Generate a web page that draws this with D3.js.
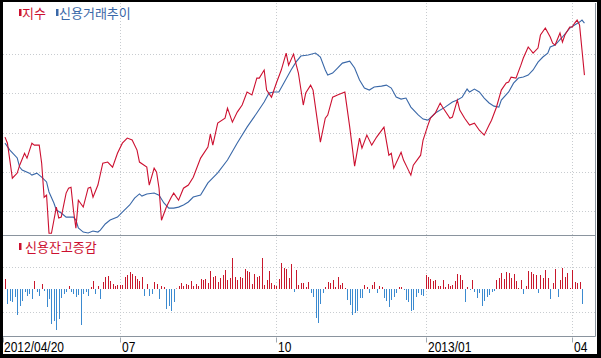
<!DOCTYPE html>
<html><head><meta charset="utf-8">
<script src="https://cdn.jsdelivr.net/npm/d3@7"></script>
<style>html,body{margin:0;padding:0;background:#fff}svg{display:block}</style>
</head><body><svg id="c" width="601" height="358"></svg>
<script>
// ---- data ----
const indexDays = [0,1,3,5,6,8,9,11,12,14,15,16,17,18,19,21,22,23,25,26,27,28,29,30,32,34,35,36,38,40,42,44,46,48,50,52,54,55,58,59,61,62,63,64,66,68,69,71,73,75,77,80,83,84,85,87,90,91,93,95,97,99,101,103,104,106,107,109,111,113,115,116,118,120,122,123,125,126,129,131,132,134,136,139,141,143,145,146,148,150,152,155,157,158,159,162,163,165,166,167,170,171,173,174,176,178,179,182,183,185,186,188,190,192,194,196,198,199,201,203,205,206,207,209,211,212,214,215,216,218,219,221,223,224,225,227,228,229,231,232,233,234,235,236,237];
const indexValues = [507.8,504.7,486.9,489.5,493.5,499.6,497.1,504.7,503.7,503.7,494.5,477.2,478.3,458.9,458.9,472.2,466.6,467.1,479.3,481.8,482.3,470.6,461.5,475.7,472.2,481.8,482.3,477.2,483.4,494.5,495.1,492.5,499.6,504.7,507.3,506.3,501.2,495.1,492.5,483.4,492.0,490.0,481.8,465.5,472.2,477.2,479.3,475.7,481.8,483.4,487.4,497.1,502.7,509.3,503.7,514.9,517.4,522.5,515.4,520.5,524.1,530.7,529.2,537.8,537.8,541.9,531.7,528.1,535.3,541.9,550.5,544.4,550.0,540.4,524.1,530.2,534.2,531.7,505.2,517.4,519.0,528.1,529.2,530.7,512.9,493.0,507.3,502.2,508.8,503.7,507.8,512.9,498.6,499.6,492.0,500.1,496.1,491.0,488.4,493.5,498.6,506.3,513.9,517.4,520.0,525.1,523.0,517.4,518.0,526.6,521.5,517.4,513.9,514.9,511.3,508.8,513.9,516.4,523.0,531.7,535.3,535.8,538.3,537.8,544.4,548.0,553.6,552.1,550.5,553.1,559.7,563.3,558.7,555.6,554.6,560.7,556.1,559.7,563.8,563.8,565.8,567.3,564.8,552.1,539.3];

const creditDays = [0,2,5,6,7,10,11,13,15,17,18,20,21,23,25,28,29,30,32,34,36,38,39,41,43,46,48,51,53,55,56,58,61,63,65,67,69,71,73,75,77,80,83,87,91,95,99,103,106,108,110,112,114,117,119,121,124,127,129,131,132,134,136,138,141,143,145,147,149,151,154,156,158,160,162,164,166,169,171,173,176,180,183,185,187,189,190,192,194,196,198,200,202,203,206,208,210,212,214,216,218,220,222,223,225,228,231,233,235,236,237];
const creditValues = [4.947,4.911,4.871,4.825,4.810,4.794,4.784,4.794,4.774,4.749,4.698,4.642,4.606,4.591,4.570,4.570,4.555,4.515,4.494,4.489,4.499,4.494,4.504,4.535,4.555,4.570,4.596,4.632,4.667,4.688,4.677,4.688,4.693,4.682,4.642,4.616,4.616,4.621,4.632,4.647,4.672,4.683,4.744,4.795,4.861,4.947,5.028,5.100,5.156,5.202,5.207,5.207,5.252,5.319,5.359,5.390,5.395,5.405,5.385,5.319,5.293,5.303,5.329,5.354,5.364,5.329,5.268,5.227,5.217,5.232,5.237,5.242,5.227,5.181,5.171,5.176,5.130,5.090,5.069,5.064,5.100,5.130,5.156,5.166,5.181,5.222,5.207,5.222,5.207,5.176,5.151,5.135,5.130,5.166,5.207,5.252,5.278,5.283,5.293,5.319,5.359,5.385,5.405,5.436,5.446,5.487,5.532,5.548,5.563,5.573,5.558];

const changeValues = [
 100,-150,-120,-130,-80,-260,-170,-120,-30,-70,-50,-100,80,-30,-70,50,-20,-180,-100,-350,-320,-410,-300,-90,-50,-30,30,-30,-50,-80,-60,-360,-50,-30,-70,20,80,-50,30,-100,70,120,130,80,50,30,40,40,40,120,140,170,150,130,100,80,120,-70,50,-70,-50,70,50,-100,30,20,-200,-170,-220,-130,5,30,60,30,50,40,80,30,50,30,
 100,90,100,60,180,120,130,70,110,140,190,90,110,310,120,90,120,110,200,180,170,50,150,120,130,310,40,90,180,60,40,30,100,260,210,200,110,250,-30,190,40,60,60,20,70,-40,-80,-290,-340,-150,-40,20,70,60,90,20,120,40,60,10,-110,-160,-260,-240,-220,-90,-90,40,20,-40,40,70,-40,30,20,-90,-120,-180,-110,-80,-40,
 20,20,-10,-110,-130,-220,-210,-80,-40,-60,-70,140,120,100,80,90,30,30,90,20,50,30,40,80,150,140,90,-130,20,-10,90,-30,-90,-40,-170,-120,-80,-60,-30,-20,90,110,160,100,170,160,110,150,80,10,90,-50,30,180,170,150,140,-40,140,110,190,110,-100,60,200,-80,90,210,120,160,10,190,70,60,70,-150];

const tickDays = [0,47,111,172,232];
const tickLabels = ["2012/04/20","07","10","2013/01","04"];
const indexGrid = [470,490,510,530,550];
const changeGrid = [225,-225];

// ---- layout ----
const svg = d3.select("#c");
const W=601,H=358;
const L=3, R=595.5, topY=3, midY=235.5, botY=336.5;
const RED="#cc1030", BLUE="#3a68a8", BRED="#c8182c", BBLUE="#3b8ad0";

svg.append("rect").attr("width",W).attr("height",H).attr("fill","#fff");

const x = d3.scaleLinear().domain([0, changeValues.length-1]).range([5, 582]);
const yIdx = d3.scaleLinear().domain([458,576]).range([235,3]);
const yCr = d3.scaleLinear().domain([4.479,5.66]).range([235,3]);
const yCh = d3.scaleLinear().domain([-480,530]).range([337,236]);

const grid = svg.append("g").attr("stroke","#c8ccd0").attr("stroke-dasharray","1,2").attr("stroke-width",1);
grid.selectAll("line.v").data(tickDays.slice(1)).join("line")
  .attr("x1",d=>Math.round(x(d))+0.5).attr("x2",d=>Math.round(x(d))+0.5)
  .attr("y1",topY).attr("y2",botY);
grid.selectAll("line.h").data(indexGrid).join("line")
  .attr("x1",L).attr("x2",R).attr("y1",d=>Math.round(yIdx(d))+0.5).attr("y2",d=>Math.round(yIdx(d))+0.5);
grid.selectAll("line.h2").data(changeGrid).join("line")
  .attr("x1",L).attr("x2",R).attr("y1",d=>Math.round(yCh(d))+0.5).attr("y2",d=>Math.round(yCh(d))+0.5);

// lines
const idxData = indexDays.map((d,i)=>[d,indexValues[i]]);
const crData = creditDays.map((d,i)=>[d,creditValues[i]]);
svg.append("path").datum(crData).attr("fill","none").attr("stroke",BLUE).attr("stroke-width",1.1)
  .attr("d",d3.line().x(d=>x(d[0])).y(d=>yCr(d[1])));
svg.append("path").datum(idxData).attr("fill","none").attr("stroke",RED).attr("stroke-width",1.1)
  .attr("d",d3.line().x(d=>x(d[0])).y(d=>yIdx(d[1])));

// bars
svg.append("g").selectAll("line").data(changeValues).join("line")
  .attr("x1",(d,i)=>Math.round(x(i))+0.5).attr("x2",(d,i)=>Math.round(x(i))+0.5)
  .attr("y1",yCh(0)).attr("y2",d=>yCh(d))
  .attr("stroke",d=>d>=0?BRED:BBLUE).attr("stroke-width",1);

// panel lines
const pl = svg.append("g").attr("stroke","#8a949e").attr("stroke-width",1);
pl.append("line").attr("x1",L).attr("x2",R).attr("y1",midY).attr("y2",midY);
pl.append("line").attr("x1",L).attr("x2",R).attr("y1",botY).attr("y2",botY);
pl.append("line").attr("x1",R).attr("x2",R).attr("y1",topY).attr("y2",botY);

// axis ticks and labels
const ax = svg.append("g");
ax.selectAll("line").data(tickDays).join("line")
  .attr("x1",(d,i)=>i===0?3.5:Math.round(x(d))+0.5).attr("x2",(d,i)=>i===0?3.5:Math.round(x(d))+0.5)
  .attr("y1",botY+1).attr("y2",botY+6).attr("stroke","#a0a8b0");
ax.selectAll("text").data(tickLabels).join("text")
  .attr("transform",(d,i)=>`translate(${i===0?4:Math.round(x(tickDays[i]))+2},352) scale(0.8,1)`)
  .attr("font-family","'Liberation Sans',sans-serif")
  .attr("font-size",15).attr("fill","#000").text(d=>d);

// legends
const lg = svg.append("g").attr("font-family","'Noto Sans CJK KR',sans-serif").attr("font-size",13);
lg.append("rect").attr("x",19).attr("y",9).attr("width",2.5).attr("height",7).attr("fill",RED);
lg.append("text").attr("x",22).attr("y",17.5).attr("fill",RED).text("지수");
lg.append("rect").attr("x",56).attr("y",9).attr("width",2.5).attr("height",7).attr("fill",BLUE);
lg.append("text").attr("x",59).attr("y",17.5).attr("fill",BLUE).text("신용거래추이");
lg.append("rect").attr("x",19).attr("y",243).attr("width",2.5).attr("height",7).attr("fill",RED);
lg.append("text").attr("x",25).attr("y",251.5).attr("fill",RED).text("신용잔고증감");

// outer black frame
const fr = svg.append("g").attr("fill","#000");
fr.append("rect").attr("x",0).attr("y",0).attr("width",3).attr("height",H);
fr.append("rect").attr("x",0).attr("y",0).attr("width",W).attr("height",2);
fr.append("rect").attr("x",597).attr("y",0).attr("width",4).attr("height",H);
fr.append("rect").attr("x",0).attr("y",354).attr("width",W).attr("height",4);
</script></body></html>
